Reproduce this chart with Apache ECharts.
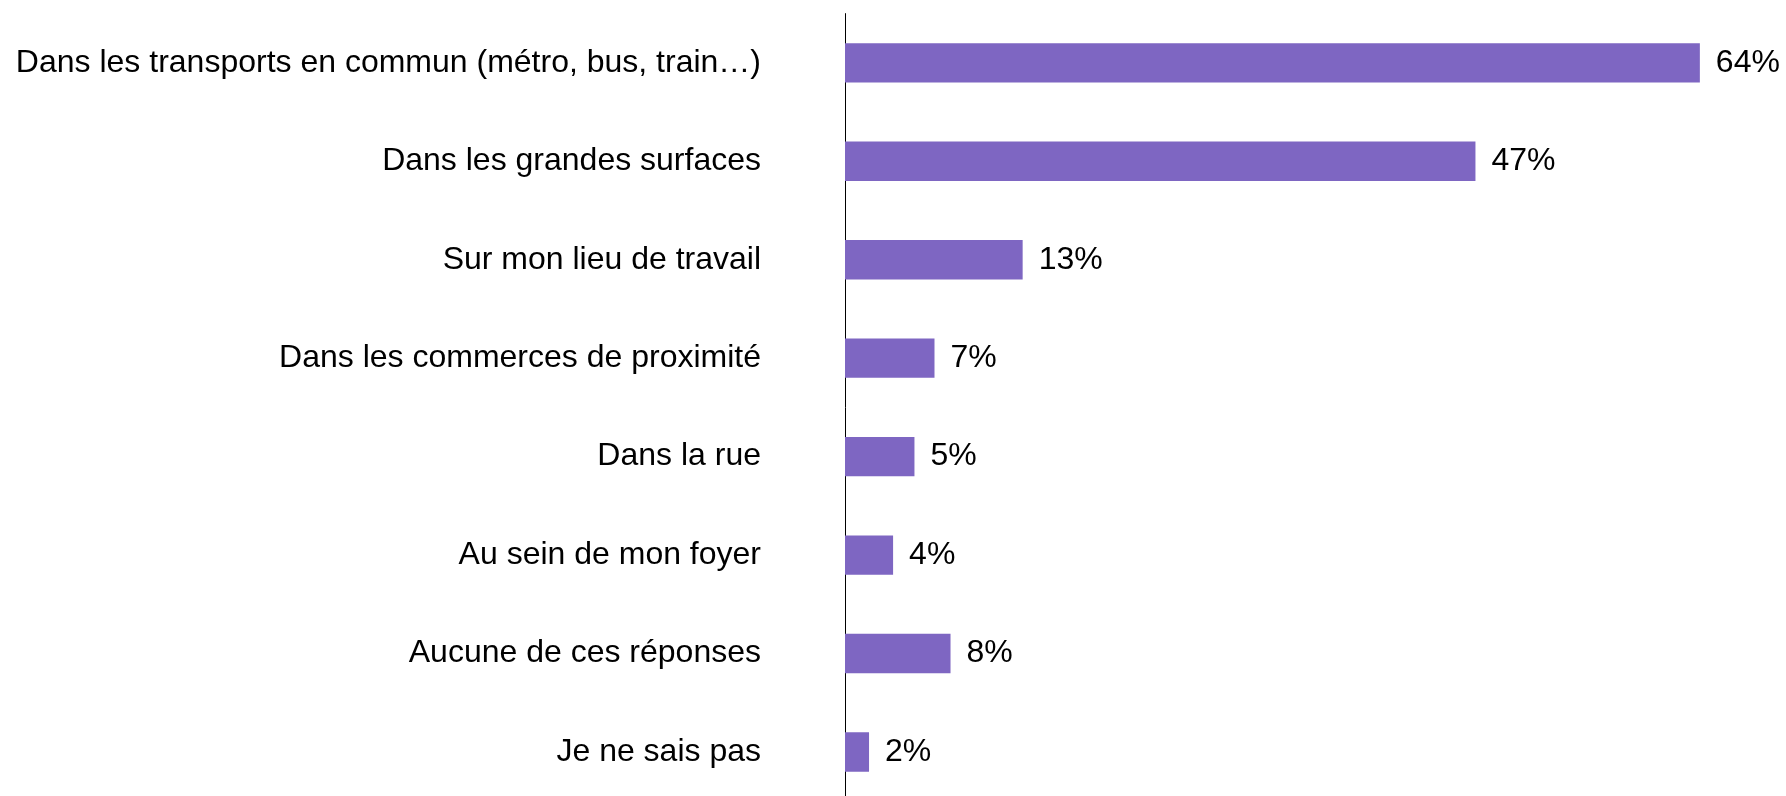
<!DOCTYPE html>
<html lang="fr">
<head>
    <meta charset="UTF-8">
    <title>Lieux</title>
    <style>
        html, body { margin: 0; padding: 0; background: #fff; overflow: hidden; }
        /* a bit taller than the window so the last band is not squeezed */
        #root { width: 1786px; height: 810px; }
    </style>
</head>
<body>
    <div id="root"></div>
    <script src="https://cdn.jsdelivr.net/npm/echarts@6/dist/echarts.min.js"></script>
    <script>
        var categories = [
            "Dans les transports en commun (métro, bus, train…)",
            "Dans les grandes surfaces",
            "Sur mon lieu de travail",
            "Dans les commerces de proximité",
            "Dans la rue",
            "Au sein de mon foyer",
            "Aucune de ces réponses",
            "Je ne sais pas"
        ];
        // values (labels shown rounded)
        var values = [64, 47.2, 13.3, 6.7, 5.2, 3.6, 7.9, 1.8];

        var chart = echarts.init(document.getElementById("root"));
        chart.setOption({
            animation: false,
            grid: {
                left: 845,
                top: 13.6,
                width: 935,
                height: 787.6,
                containLabel: false
            },
            xAxis: {
                type: "value",
                min: 0,
                max: 70,
                show: false
            },
            yAxis: {
                type: "category",
                inverse: true,
                data: categories,
                axisLine: { show: true, lineStyle: { color: "#000", width: 1 } },
                axisTick: { show: false },
                axisLabel: {
                    margin: 84,
                    color: "#000",
                    fontSize: 32,
                    fontFamily: "Liberation Sans, Arial, sans-serif"
                }
            },
            series: [{
                type: "bar",
                data: values,
                barWidth: "40%",
                itemStyle: { color: "#7E66C2" },
                label: {
                    show: true,
                    position: "right",
                    distance: 16,
                    color: "#000",
                    fontSize: 32,
                    fontFamily: "Liberation Sans, Arial, sans-serif",
                    formatter: function (p) { return Math.round(p.value) + "%"; }
                }
            }]
        });
    </script>
</body>
</html>
